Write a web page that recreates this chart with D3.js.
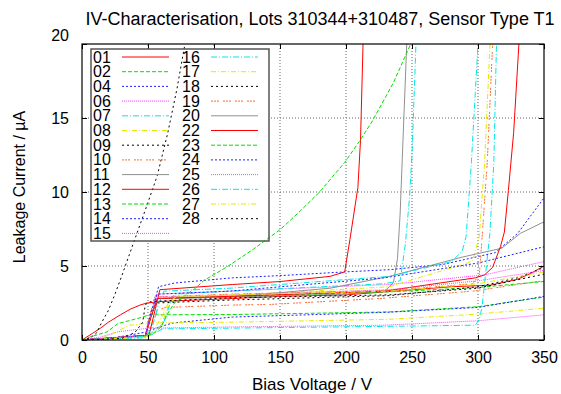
<!DOCTYPE html>
<html>
<head>
<meta charset="utf-8">
<script src="https://cdn.jsdelivr.net/npm/d3@7"></script>
<style>
  body { margin: 0; background: #fff; }
  svg text { font-family: "Liberation Sans", Arial, Helvetica, sans-serif; fill: #000; }
</style>
</head>
<body>
<svg id="chart" width="561" height="394"></svg>
<script>
// sensor ids, in legend order
const sensors = ["01","02","04","06","07","08","09","10","11","12","13","14","15",
                 "16","17","18","19","20","22","23","24","25","26","27","28"];

// measured points: [bias voltage (V), leakage current (uA)]
const iv01 = [[0,0],[8,0.45],[14,0.8],[20,1.2],[29,1.7],[37,2.1],[44,2.36],[49,2.5],[60,2.6],[114,2.8],[150,2.95],[200,3.05],[229,3.25],[280,3.6],[309,3.7],[330,4.1],[340,4.5],[350,5.0]];
const iv02 = [[0,0],[6,0.2],[19,0.55],[27,1.1],[44,1.5],[51,1.7],[112,1.72],[170,1.8],[233,1.9],[300,2.25],[350,2.9]];
const iv04 = [[0,0],[20,0.1],[36,0.33],[49,0.55],[59,0.9],[69,1.15],[114,1.55],[170,1.7],[233,1.88],[300,2.2],[350,2.95]];
const iv06 = [[0,0],[14,0.2],[27,0.55],[36,0.65],[51,0.8],[112,0.88],[229,1.0],[300,1.3],[350,1.7]];
const iv07 = [[0,0],[48,0.15],[57,0.55],[61,0.75],[112,0.8],[229,0.92],[298,1.0],[301,1.4],[303,2.2],[305,3.85],[309,7.2],[312,12],[314,20],[315,22]];
const iv08 = [[0,0],[12,0.05],[21,0.33],[36,1.0],[51,1.15],[112,1.2],[233,1.4],[300,1.75],[350,2.15]];
const iv09 = [[0,0],[6,0.13],[11,0.47],[15,1.2],[20,2.0],[25,3.1],[30,4.3],[40,6.8],[50,9.3],[57,11.1],[65,14.0],[72,17.0],[78,20],[80,21]];
const iv10 = [[0,0],[48,0.3],[54,1.2],[57,2.0],[63,2.2],[114,2.36],[142,2.4],[225,2.8],[296,3.3],[345,3.95],[350,4.0]];
const iv11 = [[0,0],[48,0.3],[52,1.5],[57,2.8],[112,2.9],[200,3.1],[229,3.3],[233,3.6],[236,3.9],[239,5.5],[241,8.5],[246,20],[247,22]];
const iv12 = [[0,0],[48,0.3],[51,0.4],[59,3.4],[114,3.75],[150,3.95],[188,4.3],[199,4.6],[203,6.8],[209,10.3],[211,13.5],[213,20.3]];
const iv13 = [[0,0],[48,0.3],[52,1.5],[57,2.8],[112,2.95],[233,3.25],[300,3.55],[350,3.95]];
const iv14 = [[0,0],[48,0.3],[50,1.0],[58,3.6],[70,3.85],[114,4.2],[150,4.35],[199,4.6],[233,4.75],[273,5.1],[313,5.9],[330,7.2],[350,9.6]];
const iv15 = [[0,0],[48,0.3],[52,1.8],[57,3.1],[112,3.3],[233,3.75],[305,4.4],[350,5.3]];
const iv16 = [[0,0],[48,0.25],[55,0.6],[62,1.2],[67,2.55],[70,3.1],[112,3.3],[229,3.8],[241,4.0],[245,6.5],[248,9.5],[250,12.5],[253,20],[254,22]];
const iv17 = [[0,0],[48,0.2],[55,0.5],[60,1.0],[65,2.2],[70,2.9],[112,3.0],[233,3.6],[292,5.2],[296,5.4],[301,7],[305,12],[309,19.8],[310,21]];
const iv18 = [[0,0],[48,0.25],[52,1.5],[56,2.5],[112,2.7],[233,3.0],[300,3.6],[330,4.2],[350,4.9]];
const iv19 = [[0,0],[48,0.3],[50,1.2],[55,2.9],[112,3.1],[233,3.35],[296,3.8],[301,4.4],[303,6.8],[307,12],[311,19.8],[312,21]];
const iv20 = [[0,0],[48,0.3],[52,1.5],[57,2.8],[112,2.9],[188,3.5],[233,4.3],[288,5.6],[318,6.2],[332,7.2],[348,7.9],[350,7.95]];
const iv22 = [[0,0],[48,0.3],[52,1.5],[57,2.8],[112,2.95],[229,3.3],[298,4.2],[305,4.4],[311,4.9],[317,6.3],[320,7.3],[323,10.1],[327,14],[331,20],[332,22]];
const iv23 = [[0,0],[48,0.25],[55,0.5],[60,0.9],[65,1.8],[70,2.5],[86,3.5],[92,4.0],[110,4.95],[130,6.15],[150,7.45],[164,8.6],[180,10.0],[199,12.0],[210,13.4],[220,14.8],[236,17.4],[249,20],[251,20.5]];
const iv24 = [[0,0],[48,0.3],[52,1.8],[57,3.1],[112,3.3],[229,4.2],[300,5.2],[350,6.3]];
const iv25 = [[0,0],[48,0.3],[52,1.6],[57,2.9],[112,3.05],[233,3.4],[300,4.0],[350,4.7]];
const iv26 = [[0,0],[48,0.25],[53,0.8],[58,2.4],[62,3.3],[112,3.5],[233,4.3],[280,5.3],[288,6.0],[291,7.0],[295,12],[300,20],[301,22]];
const iv27 = [[0,0],[48,0.2],[54,0.6],[60,1.5],[66,2.6],[72,2.95],[112,3.05],[233,3.3],[300,3.8],[350,4.6]];
const iv28 = [[0,0],[30,0.1],[40,0.5],[46,1.2],[48,2.4],[52,2.6],[112,2.85],[233,3.05],[300,3.5],[350,4.45]];

const curves = [iv01,iv02,iv04,iv06,iv07,iv08,iv09,iv10,iv11,iv12,iv13,iv14,iv15,
                iv16,iv17,iv18,iv19,iv20,iv22,iv23,iv24,iv25,iv26,iv27,iv28];

const xTicks = [0, 50, 100, 150, 200, 250, 300, 350];
const yTicks = [0, 5, 10, 15, 20];

// gnuplot line types 1..9, cycled
const lineColors = ["#ff0000","#00e000","#2020ff","#ff40ff","#00e8e8","#e8e800","#000000","#ff6a30","#909090"];
const lineDashes = [null, "4,2", "2,2", "1,1", "6,2,1,2", "5,2,1,2", "2,3", "2,1,2,1,2,4", null];

const width = 561, height = 394;
const margin = { top: 44, right: 17, bottom: 54, left: 82 };

const svg = d3.select("#chart");

const x = d3.scaleLinear().domain([0, 350]).range([margin.left, width - margin.right]);
const y = d3.scaleLinear().domain([0, 20]).range([height - margin.bottom, margin.top]);

// legend box position
const key = { x: 91, y: 49, w: 178, h: 192 };

// grid
svg.append("g")
  .selectAll("line")
  .data(xTicks.slice(1, -1))
  .enter().append("line")
  .attr("x1", d => x(d)).attr("x2", d => x(d))
  .attr("y1", y(0)).attr("y2", y(20))
  .attr("stroke", "#666").attr("stroke-dasharray", "1,2");
svg.append("g")
  .selectAll("line")
  .data(yTicks.slice(1, -1))
  .enter().append("line")
  .attr("x1", x(0)).attr("x2", x(350))
  .attr("y1", d => y(d)).attr("y2", d => y(d))
  .attr("stroke", "#666").attr("stroke-dasharray", "1,2");

// gnuplot keeps the grid out of the key box
svg.append("rect")
  .attr("x", key.x).attr("y", key.y).attr("width", key.w).attr("height", key.h)
  .attr("fill", "#fff");

// data
svg.append("clipPath").attr("id", "plotclip")
  .append("rect")
  .attr("x", x(0)).attr("y", y(20))
  .attr("width", x(350) - x(0)).attr("height", y(0) - y(20));

const line = d3.line().x(d => x(d[0])).y(d => y(d[1]));

svg.append("g")
  .attr("clip-path", "url(#plotclip)")
  .selectAll("path")
  .data(curves)
  .enter().append("path")
  .attr("d", d => line(d))
  .attr("fill", "none")
  .attr("stroke", (d, i) => lineColors[i % 9])
  .attr("stroke-dasharray", (d, i) => lineDashes[i % 9])
  .attr("stroke-width", 1);

// axes: ticks on all four sides, pointing inward
const tickLen = 5;
const xAxisB = svg.append("g").attr("transform", `translate(0,${y(0)})`)
  .call(d3.axisBottom(x).tickValues(xTicks).tickSize(-tickLen).tickPadding(12));
const xAxisT = svg.append("g").attr("transform", `translate(0,${y(20)})`)
  .call(d3.axisTop(x).tickValues(xTicks).tickSize(-tickLen).tickFormat(""));
const yAxisL = svg.append("g").attr("transform", `translate(${x(0)},0)`)
  .call(d3.axisLeft(y).tickValues(yTicks).tickSize(-tickLen).tickPadding(13));
const yAxisR = svg.append("g").attr("transform", `translate(${x(350)},0)`)
  .call(d3.axisRight(y).tickValues(yTicks).tickSize(-tickLen).tickFormat(""));

[xAxisB, xAxisT, yAxisL, yAxisR].forEach(a => {
  a.select(".domain").remove();
  a.selectAll("line").attr("stroke", "#000");
  a.selectAll("text").style("font-size", "16px");
});
yAxisL.selectAll(".tick text").filter(d => d === 20).attr("dy", "-0.25em");

// frame
svg.append("rect")
  .attr("x", x(0)).attr("y", y(20))
  .attr("width", x(350) - x(0)).attr("height", y(0) - y(20))
  .attr("fill", "none").attr("stroke", "#000").attr("stroke-width", 1.2);

// titles
svg.append("text")
  .attr("x", 320).attr("y", 25)
  .attr("text-anchor", "middle")
  .style("font-size", "18px")
  .text("IV-Characterisation, Lots 310344+310487, Sensor Type T1");

svg.append("text")
  .attr("x", 312).attr("y", 390)
  .attr("text-anchor", "middle")
  .style("font-size", "17px")
  .text("Bias Voltage / V");

svg.append("text")
  .attr("transform", "translate(25,187) rotate(-90)")
  .attr("text-anchor", "middle")
  .style("font-size", "16px")
  .text("Leakage Current / \u00b5A");

// legend
svg.append("rect")
  .attr("x", key.x).attr("y", key.y).attr("width", key.w).attr("height", key.h)
  .attr("fill", "none").attr("stroke", "#555").attr("stroke-width", 1.5);

const rowH = 14.7;
const entries = svg.append("g")
  .selectAll("g")
  .data(sensors)
  .enter().append("g")
  .attr("transform", (d, i) => {
    const col = i < 13 ? 0 : 1;
    const row = i < 13 ? i : i - 13;
    return `translate(${col ? 182 : 93},${57 + row * rowH})`;
  });

entries.append("text")
  .attr("y", 5.5)
  .style("font-size", "16px")
  .text(d => d);

entries.append("line")
  .attr("x1", 29).attr("x2", 76)
  .attr("stroke", (d, i) => lineColors[i % 9])
  .attr("stroke-dasharray", (d, i) => lineDashes[i % 9])
  .attr("stroke-width", 1);
</script>
</body>
</html>
